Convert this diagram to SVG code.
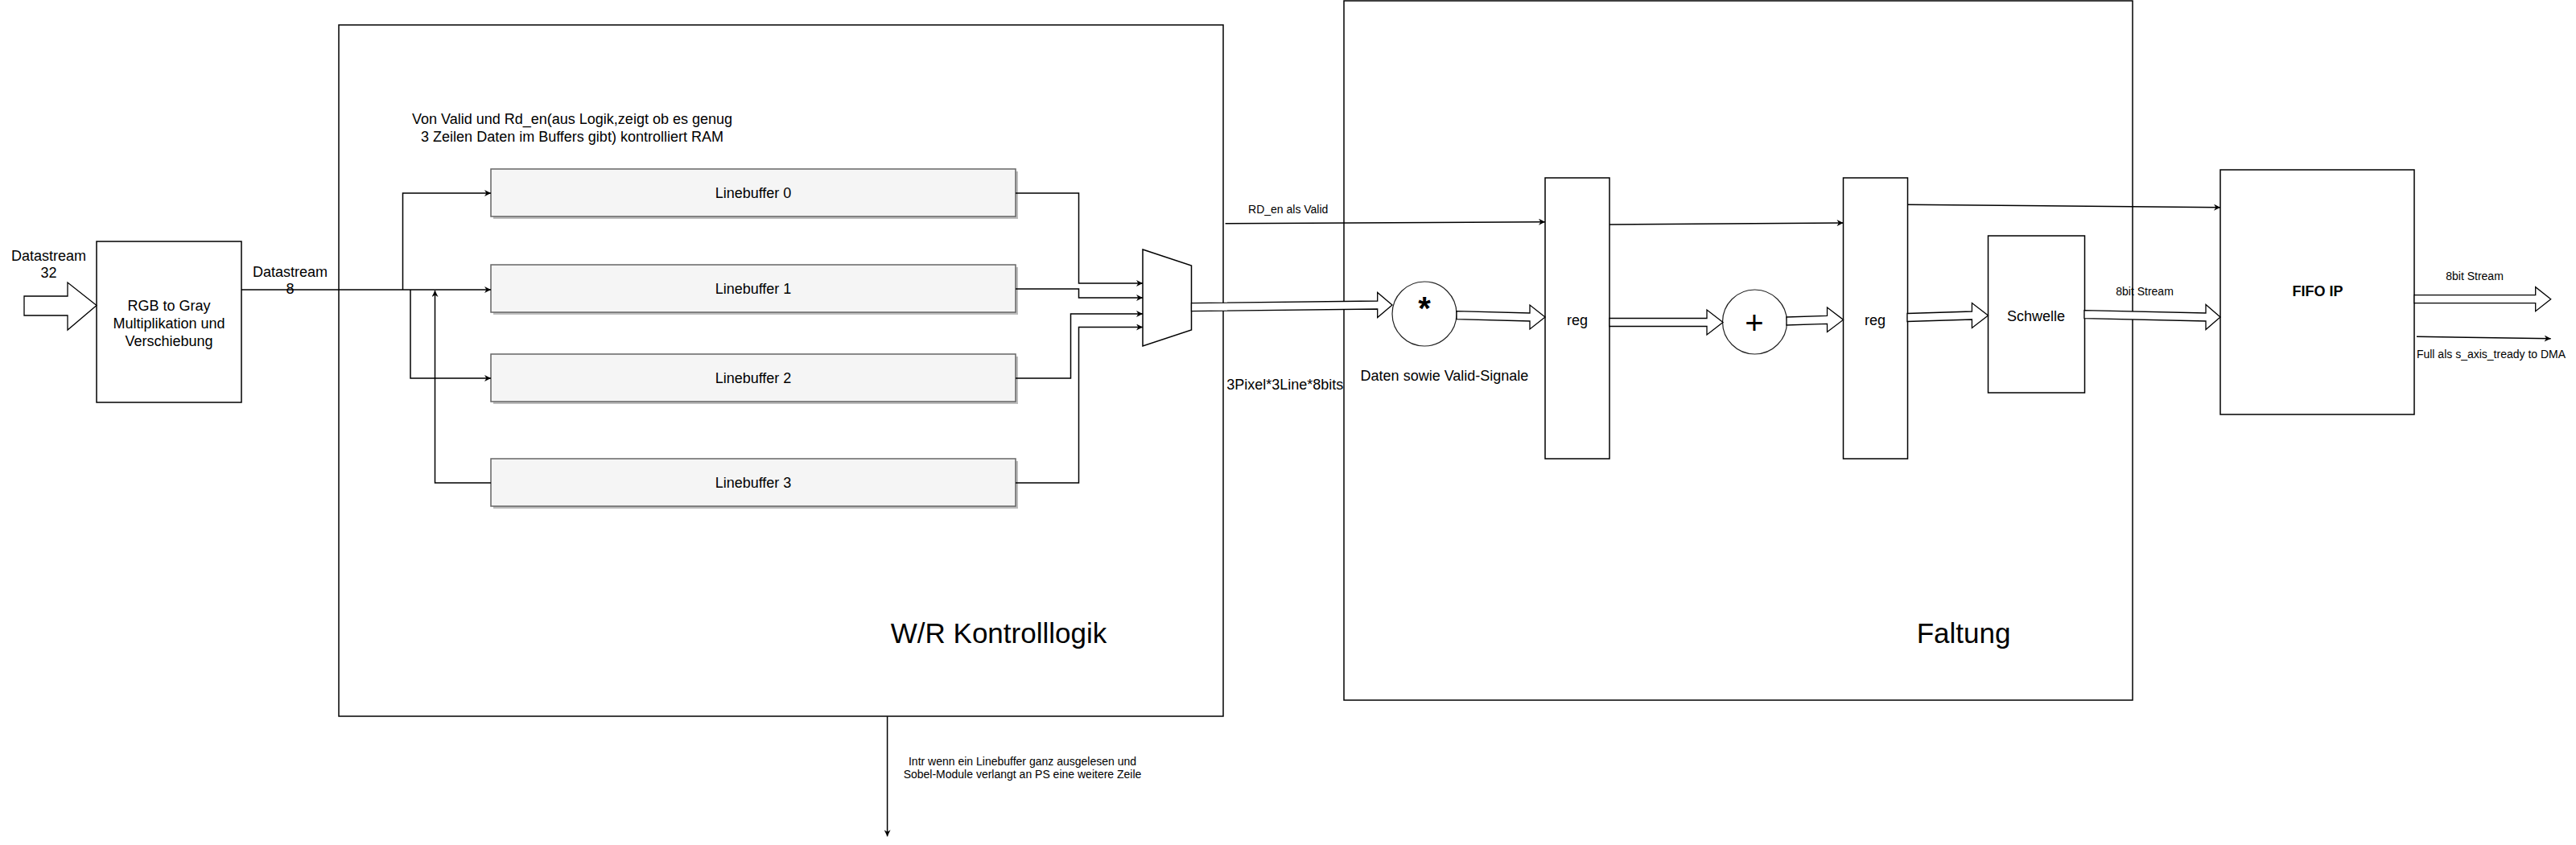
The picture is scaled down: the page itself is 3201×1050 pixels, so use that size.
<svg xmlns="http://www.w3.org/2000/svg" width="3201" height="1050" viewBox="0 0 3201 1050">
<style>
text{font-family:"Liberation Sans",Arial,Helvetica,sans-serif;fill:#000}
.t18{font-size:18px;text-anchor:middle}
.t14{font-size:14px;text-anchor:middle}
.t35{font-size:35px;text-anchor:middle}
.box{fill:#fff;stroke:#000;stroke-width:1.5}
.circ{fill:#fff;stroke:#222;stroke-width:1.2}
.lb{fill:#f5f5f5;stroke:#666;stroke-width:1.5}
.sh{fill:#bdbdbd;stroke:none}
.wire{fill:none;stroke:#000;stroke-width:1.5}
.big{fill:#fff;stroke:#000;stroke-width:1.3;stroke-linejoin:miter}
</style>
<defs>
<marker id="ah" viewBox="0 0 10 10" refX="10" refY="5" markerWidth="9" markerHeight="8" markerUnits="userSpaceOnUse" orient="auto">
<path d="M0,0 L10,5 L0,10 L3,5 z" fill="#000"/>
</marker>
</defs>
<rect width="3201" height="1050" fill="#fff"/>

<g id="wr-box"><rect class="box" x="421" y="31" width="1099" height="859"/>
<text class="t35" x="1241" y="799">W/R Kontrolllogik</text></g>
<g id="faltung-box"><rect class="box" x="1670" y="1" width="980" height="869"/>
<text class="t35" x="2440" y="799">Faltung</text></g>

<g id="rgb"><rect class="box" x="120" y="300" width="180" height="200"/>
<text class="t18" x="210" y="386">RGB to Gray</text>
<text class="t18" x="210" y="408">Multiplikation und</text>
<text class="t18" x="210" y="430">Verschiebung</text></g>

<g id="lb0"><rect class="sh" x="613" y="213" width="652" height="59"/><rect class="lb" x="610" y="210" width="652" height="59"/><text class="t18" x="936" y="246">Linebuffer 0</text></g>
<g id="lb1"><rect class="sh" x="613" y="332" width="652" height="59"/><rect class="lb" x="610" y="329" width="652" height="59"/><text class="t18" x="936" y="365">Linebuffer 1</text></g>
<g id="lb2"><rect class="sh" x="613" y="443" width="652" height="59"/><rect class="lb" x="610" y="440" width="652" height="59"/><text class="t18" x="936" y="476">Linebuffer 2</text></g>
<g id="lb3"><rect class="sh" x="613" y="573" width="652" height="59"/><rect class="lb" x="610" y="570" width="652" height="59"/><text class="t18" x="936" y="606">Linebuffer 3</text></g>

<g id="mux"><polygon class="box" points="1420,310 1480.5,330 1480.5,410 1420,430"/></g>

<g id="mult"><circle class="circ" cx="1770" cy="390" r="40"/><text x="1770" y="397" style="font-size:40px;font-weight:bold;text-anchor:middle">*</text></g>
<g id="reg1"><rect class="box" x="1920" y="221" width="80" height="349"/><text class="t18" x="1960" y="404">reg</text></g>
<g id="add"><circle class="circ" cx="2180.5" cy="400" r="40"/><text x="2180" y="415" style="font-size:40px;text-anchor:middle">+</text></g>
<g id="reg2"><rect class="box" x="2290.5" y="221" width="80" height="349"/><text class="t18" x="2330" y="404">reg</text></g>
<g id="schwelle"><rect class="box" x="2470.5" y="293" width="120" height="195"/><text class="t18" x="2530" y="399">Schwelle</text></g>
<g id="fifo"><rect class="box" x="2759" y="211" width="241" height="304"/><text class="t18" x="2880" y="368" style="font-weight:bold">FIFO IP</text></g>

<g id="connectors">
<polygon class="big" points="30,368 84,368 84,351 120,379.5 84,410 84,392 30,392"/>
<path class="wire" d="M300,360 H610" marker-end="url(#ah)"/>
<path class="wire" d="M500.5,360 V240 H610" marker-end="url(#ah)"/>
<path class="wire" d="M510,360 V470 H610" marker-end="url(#ah)"/>
<path class="wire" d="M610,600 H540.5 V361" marker-end="url(#ah)"/>
<path class="wire" d="M1262,240 H1340.5 V352 H1420" marker-end="url(#ah)"/>
<path class="wire" d="M1262,359 H1340.5 V370 H1420" marker-end="url(#ah)"/>
<path class="wire" d="M1262,470 H1330.5 V390 H1420" marker-end="url(#ah)"/>
<path class="wire" d="M1262,600 H1340.5 V406.5 H1420" marker-end="url(#ah)"/>
<polygon class="big" points="1480.5,376.7 1711.7,374 1711.7,363.5 1730,379 1711.7,394.5 1711.7,384 1480.5,386.7"/>
<polygon class="big" points="1810,386.7 1901,389 1901,379 1920,394 1901,409 1901,399 1810,396.7"/>
<polygon class="big" points="2000,395.5 2121,395.5 2121,385 2141,400.5 2121,416 2121,405.5 2000,405.5"/>
<polygon class="big" points="2220,394 2270.5,392.3 2270.5,382 2290.5,397.3 2270.5,412.5 2270.5,402.3 2220,404"/>
<polygon class="big" points="2370,389.5 2450.4,387 2450.4,376.5 2470.5,392 2450.4,407.5 2450.4,397 2370,399.5"/>
<polygon class="big" points="2590,385.7 2741,389 2741,378.5 2759,394 2741,409.5 2741,399 2590,395.7"/>
<polygon class="big" points="3000,366.7 3150.7,366.7 3150.7,356.7 3169.7,371.7 3150.7,386.7 3150.7,376.7 3000,376.7"/>
<path class="wire" d="M1522.6,277.7 L1920,275.7" marker-end="url(#ah)"/>
<path class="wire" d="M2000,279 L2290.5,277" marker-end="url(#ah)"/>
<path class="wire" d="M2370,254.3 L2759,257.7" marker-end="url(#ah)"/>
<path class="wire" d="M3003,418.3 L3169.7,420.7" marker-end="url(#ah)"/>
<path class="wire" d="M1102.6,890.3 V1039.3" marker-end="url(#ah)"/>
</g>

<g id="labels">
<text class="t18" x="60.5" y="324">Datastream</text>
<text class="t18" x="60.5" y="345">32</text>
<text class="t18" x="360.5" y="344">Datastream</text>
<text class="t18" x="360.5" y="365">8</text>
<text class="t18" x="711" y="154">Von Valid und Rd_en(aus Logik,zeigt ob es genug</text>
<text class="t18" x="711" y="176">3 Zeilen Daten im Buffers gibt) kontrolliert RAM</text>
<text class="t14" x="1600.7" y="265">RD_en als Valid</text>
<text class="t18" x="1596.7" y="484">3Pixel*3Line*8bits</text>
<text class="t18" x="1795" y="473">Daten sowie Valid-Signale</text>
<text class="t14" x="2665" y="366.7">8bit Stream</text>
<text class="t14" x="3075" y="348">8bit Stream</text>
<text class="t14" x="3095.5" y="445">Full als s_axis_tready to DMA</text>
<text class="t14" x="1270.5" y="950.7">Intr wenn ein Linebuffer ganz ausgelesen und</text>
<text class="t14" x="1270.5" y="966.7">Sobel-Module verlangt an PS eine weitere Zeile</text>
</g>
</svg>
